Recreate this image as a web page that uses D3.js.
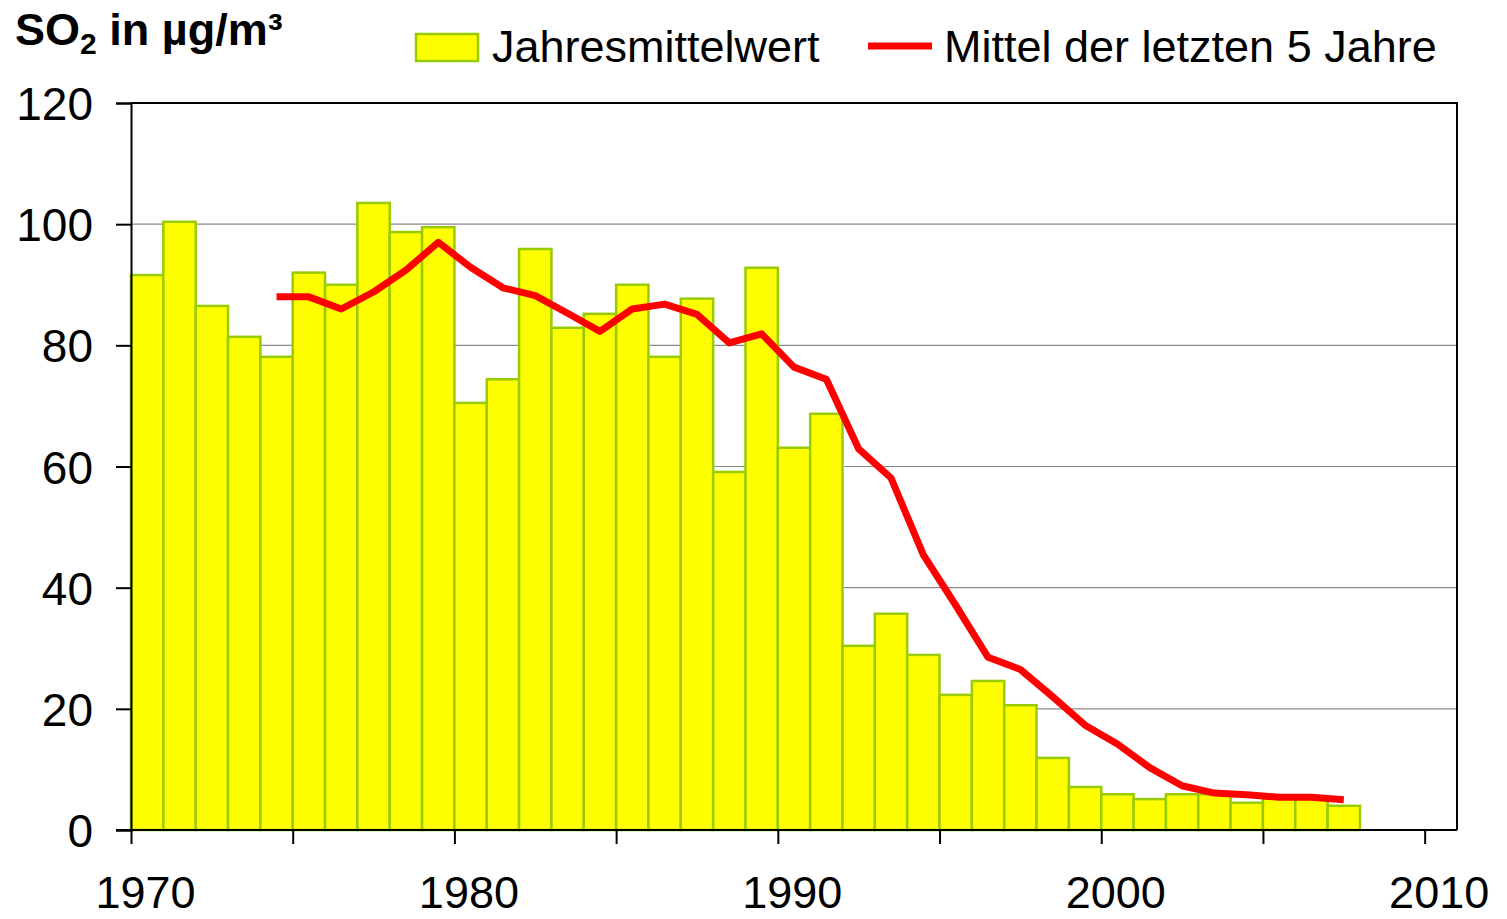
<!DOCTYPE html>
<html><head><meta charset="utf-8">
<script src="https://cdn.jsdelivr.net/npm/d3@7"></script>
<style>
html,body{margin:0;padding:0;background:#fff;}
svg text{font-family:"Liberation Sans",Arial,sans-serif;fill:#000;}
</style></head>
<body>
<svg id="chart" width="1507" height="919"></svg>
<script>
const years = d3.range(1970, 2008);
const annualMeans = [91.6,100.4,86.5,81.4,78.1,92.0,90.0,103.5,98.7,99.5,
  70.5,74.4,95.9,82.9,85.2,90.0,78.1,87.7,59.1,92.8,
  63.1,68.7,30.4,35.7,28.9,22.3,24.6,20.6,11.9,7.1,
  5.9,5.1,5.9,5.9,4.5,5.2,5.2,4.0];
const avgYears = d3.range(1974, 2008);
const avg5 = [88.0,88.0,86.0,88.8,92.4,97.0,92.9,89.5,88.2,85.3,
  82.3,86.0,86.8,85.1,80.4,81.9,76.4,74.4,62.9,58.1,
  45.4,37.1,28.5,26.5,22.0,17.3,14.2,10.3,7.3,6.1,
  5.8,5.4,5.4,5.0];
const yTicks = [0,20,40,60,80,100,120];
const xTicks = [1970,1975,1980,1985,1990,1995,2000,2005,2010];
const xLabels = [1970,1980,1990,2000,2010];
const legendLabels = ["Jahresmittelwert","Mittel der letzten 5 Jahre"];

const svg = d3.select("#chart");
const m = {left:131, top:103, right:50, bottom:89};
const W = 1507, H = 919;
const x = d3.scaleLinear().domain([1970, 2011]).range([m.left, W - m.right]);
const y = d3.scaleLinear().domain([0, 120]).range([H - m.bottom, m.top]);

// gridlines
svg.append("g").selectAll("line").data(yTicks.filter(d => d > 0 && d < 120)).join("line")
  .attr("x1", x(1970)).attr("x2", x(2011))
  .attr("y1", d => y(d)).attr("y2", d => y(d))
  .attr("stroke", "#8a8a8a").attr("stroke-width", 1.2);

// bars
svg.append("g").selectAll("rect").data(years.map((yr,i)=>({yr, v: annualMeans[i]}))).join("rect")
  .attr("x", d => x(d.yr)).attr("width", d => x(d.yr+1) - x(d.yr))
  .attr("y", d => y(d.v)).attr("height", d => y(0) - y(d.v))
  .attr("fill", "#ffff00").attr("stroke", "#99cc00").attr("stroke-width", 2.5);

// plot border top/right
svg.append("path")
  .attr("d", `M${x(1970)},${y(120)}H${x(2011)}V${y(0)}`)
  .attr("fill","none").attr("stroke","#000").attr("stroke-width",2);

// line
const line = d3.line().x(d => x(d.yr + 0.5)).y(d => y(d.v));
svg.append("path").datum(avgYears.map((yr,i)=>({yr, v: avg5[i]})))
  .attr("d", line).attr("fill","none").attr("stroke","#ff0000")
  .attr("stroke-width", 7).attr("stroke-linejoin","round");

// y axis
const yAxis = d3.axisLeft(y).tickValues(yTicks).tickSize(15).tickFormat(d => d);
const gy = svg.append("g").attr("transform", `translate(${x(1970)},0)`).call(yAxis);
gy.select(".domain").attr("stroke","#000").attr("stroke-width",2);
gy.selectAll(".tick line").attr("stroke","#000").attr("stroke-width",2);
gy.selectAll(".tick text").attr("x", -38).attr("dy", "0.36em")
  .style("font-size","46px").attr("fill","#000");

// x axis
const xAxis = d3.axisBottom(x).tickValues(xTicks).tickSize(14).tickFormat(d => xLabels.includes(d) ? d : "");
const gx = svg.append("g").attr("transform", `translate(0,${y(0)})`).call(xAxis);
gx.select(".domain").attr("stroke","#000").attr("stroke-width",2).attr("d", `M${x(1970)-15},0H${x(2011)}`);
gx.selectAll(".tick line").attr("stroke","#000").attr("stroke-width",2);
gx.selectAll(".tick text").attr("x", 14).attr("y", 78).attr("dy", 0)
  .style("font-size","45px").attr("fill","#000");

// title
const t = svg.append("text").attr("x", 15).attr("y", 45)
  .style("font-size","45px").style("font-weight","bold");
t.append("tspan").text("SO");
t.append("tspan").attr("dy", 9).style("font-size","30px").text("2");
t.append("tspan").attr("dy", -9).text(" in µg/m³");

// legend
svg.append("rect").attr("x", 416).attr("y", 34).attr("width", 62).attr("height", 27)
  .attr("fill","#ffff00").attr("stroke","#99cc00").attr("stroke-width",2.5);
svg.append("text").attr("x", 492).attr("y", 62).style("font-size","45px").text(legendLabels[0]);
svg.append("line").attr("x1", 868).attr("x2", 932).attr("y1", 46).attr("y2", 46)
  .attr("stroke","#ff0000").attr("stroke-width",7);
svg.append("text").attr("x", 944).attr("y", 62).style("font-size","45px").text(legendLabels[1]);
</script>
</body></html>
